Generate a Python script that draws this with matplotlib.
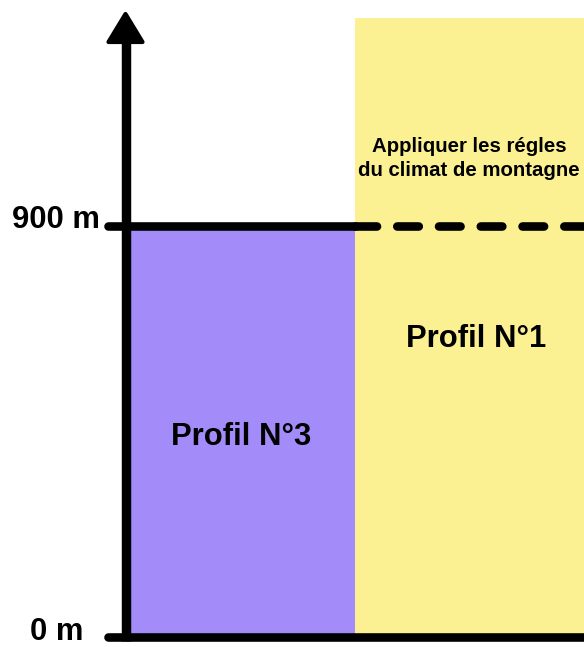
import matplotlib
matplotlib.use("Agg")
import matplotlib.pyplot as plt

# ---- data ----
altitudes = [0, 900]                    # metres
tick_labels = ["0 m", "900 m"]
zone_labels = ["Profil N°3", "Profil N°1"]
zone_tops = [900, 1354]                  # top altitude of each coloured zone (m)
zone_colors = ["#a48bfa", "#fcf192"]
note_lines = ["Appliquer les régles", "du climat de montagne"]

# ---- layout (pixels) ----
W, H = 584, 647
fig = plt.figure(figsize=(W / 100, H / 100), dpi=100)
ax = fig.add_axes([0, 0, 1, 1])
ax.set_axis_off()

px_per_m = 411.5 / 900.0
y0_px = 637.0

def m(p):
    """pixel row -> metres"""
    return (y0_px - p) / px_per_m

ax.set_xlim(0, W)
ax.set_ylim(m(H), m(0))

axis_x = 125.5
zone_edges = [axis_x, 355, 585]
lw = 6.2
FONT = "Liberation Sans"
BIG = 22.3

# zones
for i in range(2):
    ax.fill_between([zone_edges[i], zone_edges[i + 1]], altitudes[0], zone_tops[i],
                    color=zone_colors[i], lw=0, zorder=1)

# 900 m line: solid over axis/purple, dashed over yellow
ax.plot([108, zone_edges[1]], [altitudes[1]] * 2, color="black", lw=lw,
        solid_capstyle="round", zorder=3)
ax.plot([zone_edges[1], W + 10], [altitudes[1]] * 2, color="black", lw=lw,
        dash_capstyle="round", dashes=(2.5, 2.35), zorder=3)

# bottom line
ax.plot([108, W + 10], [altitudes[0]] * 2, color="black", lw=lw,
        solid_capstyle="round", zorder=3)

# vertical axis
ax.plot([axis_x, axis_x], [m(641), m(40)], color="black", lw=lw + 0.6,
        solid_capstyle="butt", zorder=3)
# arrow head
ax.fill([axis_x - 17, axis_x + 17, axis_x], [m(42), m(42), m(14)],
        color="black", lw=3, joinstyle="round", zorder=4)

# tick labels
ax.text(100, m(228), tick_labels[1], ha="right", va="baseline",
        fontsize=BIG, fontweight="bold", family=FONT)
ax.text(83, m(640), tick_labels[0], ha="right", va="baseline",
        fontsize=BIG, fontweight="bold", family=FONT)

# zone labels
ax.text(241, m(445), zone_labels[0],
        ha="center", va="baseline", fontsize=BIG, fontweight="bold", family=FONT)
ax.text(476, m(347), zone_labels[1],
        ha="center", va="baseline", fontsize=BIG, fontweight="bold", family=FONT)

for line, base in zip(note_lines, [152, 176]):
    ax.text(469, m(base), line, ha="center", va="baseline", fontsize=14.7,
            fontweight="bold", family=FONT)

fig.savefig("out.png", dpi=100)
